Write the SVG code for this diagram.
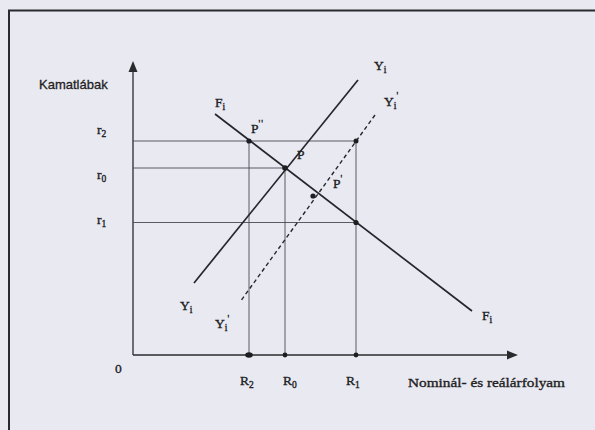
<svg xmlns="http://www.w3.org/2000/svg" width="595" height="430" viewBox="0 0 595 430">
<style>
.bg{fill:#e9e9f2}
.frame{stroke:#2a2a2e;stroke-width:2;fill:none}
.axis{stroke:#2a2a2e;stroke-width:1.3;fill:none}
.grid{stroke:#4a4a50;stroke-width:0.9;fill:none}
.curve{stroke:#26262a;stroke-width:1.7;fill:none}
.dash{stroke:#26262a;stroke-width:1.4;fill:none;stroke-dasharray:4 3}
.dot{fill:#1e1e22}
.t{font-family:"Liberation Serif","Times New Roman",serif;font-size:13.5px;fill:#1e1e22;stroke:#1e1e22;stroke-width:0.35}
.s{font-family:"Liberation Sans",Arial,sans-serif;font-size:13px;fill:#1e1e22;stroke:#1e1e22;stroke-width:0.3}
.sub{font-size:9.5px}
</style>
<rect class="bg" x="0" y="0" width="595" height="430"/>
<g id="frame">
<path class="frame" d="M9,430 V10.5 H595"/>
</g>
<g id="connectors">
<path class="axis" d="M133,355 V70"/>
<polygon points="133,61 128.5,72 137.5,72" fill="#2a2a2e"/>
<path class="axis" d="M133,355 H508"/>
<polygon points="518,355 507,350.5 507,359.5" fill="#2a2a2e"/>
<path class="grid" d="M133,141 H356"/>
<path class="grid" d="M133,168 H285"/>
<path class="grid" d="M133,222.5 H356"/>
<path class="grid" d="M249,141 V355"/>
<path class="grid" d="M285,168 V355"/>
<path class="grid" d="M356,141 V355"/>
<path id="Fi" class="curve" d="M215,114 L472,311"/>
<path id="Yi" class="curve" d="M358,80 L194,283"/>
<path id="Yi2" class="dash" d="M375,115 L240,302"/>
</g>
<g id="points">
<circle class="dot" cx="249" cy="141" r="2.6"/>
<circle class="dot" cx="285" cy="168" r="2.8"/>
<circle class="dot" cx="356" cy="141" r="2.5"/>
<circle class="dot" cx="313" cy="196" r="2.6"/>
<circle class="dot" cx="356" cy="222.5" r="2.6"/>
<ellipse class="dot" cx="249" cy="355" rx="3.8" ry="2.8"/>
<circle class="dot" cx="285" cy="355" r="2.4"/>
<circle class="dot" cx="356" cy="355" r="2.4"/>
</g>
<g id="labels">
<text class="s" x="39" y="89">Kamatlábak</text>
<text class="t" x="97" y="134">r<tspan class="sub" dy="3">2</tspan></text>
<text class="t" x="97" y="179">r<tspan class="sub" dy="3">0</tspan></text>
<text class="t" x="97" y="224">r<tspan class="sub" dy="3">1</tspan></text>
<text class="t" x="115" y="373">0</text>
<text class="t" x="240" y="385">R<tspan class="sub" dy="3">2</tspan></text>
<text class="t" x="283" y="385">R<tspan class="sub" dy="3">0</tspan></text>
<text class="t" x="346" y="385">R<tspan class="sub" dy="3">1</tspan></text>
<text class="t" x="408" y="387" textLength="157" lengthAdjust="spacingAndGlyphs">Nominál- és reálárfolyam</text>
<text class="t" x="215" y="107">F<tspan class="sub" dy="3">i</tspan></text>
<text class="t" x="482" y="320">F<tspan class="sub" dy="3">i</tspan></text>
<text class="t" x="374" y="70">Y<tspan class="sub" dy="3">i</tspan></text>
<text class="t" x="384" y="106">Y<tspan class="sub" dy="3">i</tspan><tspan class="sub" dy="-10">'</tspan></text>
<text class="t" x="180" y="310">Y<tspan class="sub" dy="3">i</tspan></text>
<text class="t" x="215" y="328">Y<tspan class="sub" dy="3">i</tspan><tspan class="sub" dy="-9">'</tspan></text>
<text class="t" x="251" y="133">P<tspan class="sub" dy="-6" letter-spacing="1">''</tspan></text>
<text class="t" x="297" y="159">P</text>
<text class="t" x="333" y="188">P<tspan class="sub" dy="-6">'</tspan></text>
</g>
</svg>
